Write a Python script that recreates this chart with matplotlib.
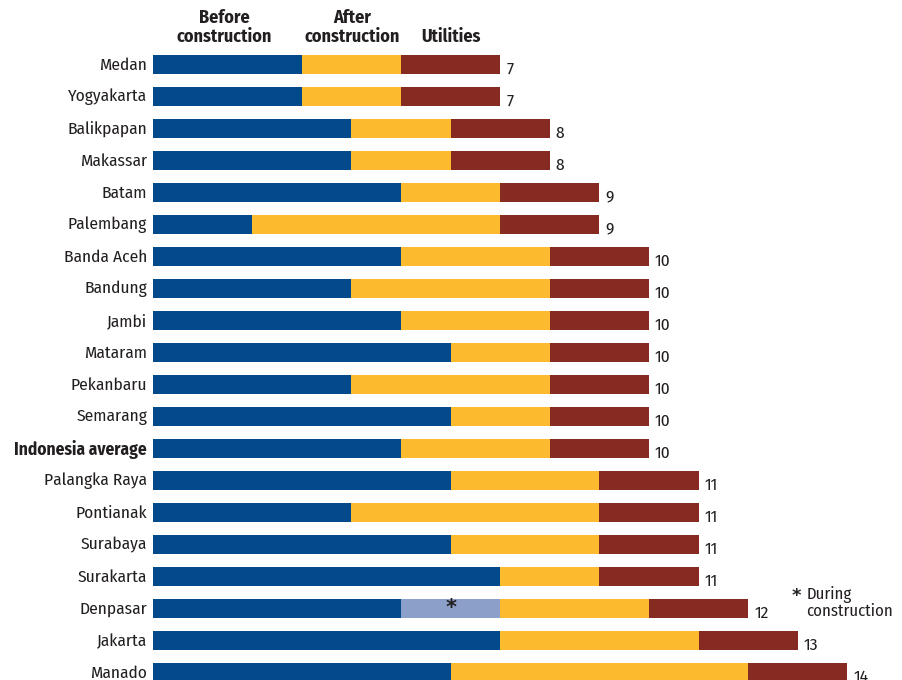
import matplotlib
matplotlib.use("Agg")
import matplotlib.pyplot as plt

cities = ["Medan", "Yogyakarta", "Balikpapan", "Makassar", "Batam", "Palembang",
          "Banda Aceh", "Bandung", "Jambi", "Mataram", "Pekanbaru", "Semarang",
          "Indonesia average", "Palangka Raya", "Pontianak", "Surabaya", "Surakarta",
          "Denpasar", "Jakarta", "Manado"]
before = [3, 3, 4, 4, 5, 2, 5, 4, 5, 6, 4, 6, 5, 6, 4, 6, 7, 5, 7, 6]
during = [0, 0, 0, 0, 0, 0, 0, 0, 0, 0, 0, 0, 0, 0, 0, 0, 0, 2, 0, 0]
after = [2, 2, 2, 2, 2, 5, 3, 4, 3, 2, 4, 2, 3, 3, 5, 3, 2, 3, 4, 6]
utilities = [2, 2, 2, 2, 2, 2, 2, 2, 2, 2, 2, 2, 2, 2, 2, 2, 2, 2, 2, 2]
totals = [7, 7, 8, 8, 9, 9, 10, 10, 10, 10, 10, 10, 10, 11, 11, 11, 11, 12, 13, 14]
headers = ["Before\nconstruction", "After\nconstruction", "Utilities"]

plt.rcParams["font.family"] = ["Fira Sans Condensed", "DejaVu Sans"]

BLUE = "#034A8C"
LBLUE = "#8C9FC9"
YEL = "#FCBA2F"
RED = "#862A22"
TXT = "#231F20"

fig = plt.figure(figsize=(9.02, 6.80), dpi=100)
ax = fig.add_axes([153 / 902, 0, 749 / 902, 1])
unit = 49.6
ax.set_xlim(0, 749 / unit)
ax.set_ylim((680 - 64.5) / 32, -64.5 / 32)
ax.axis("off")

y = list(range(len(cities)))
h = 19 / 32
left = [0] * len(cities)
for vals, col in [(before, BLUE), (during, LBLUE), (after, YEL), (utilities, RED)]:
    ax.barh(y, vals, left=left, height=h, color=col, linewidth=0)
    left = [l + v for l, v in zip(left, vals)]

for i, c in enumerate(cities):
    ax.text(-0.12, i + 0.02, c, ha="right", va="center", fontsize=12.5, color=TXT,
            fontweight="bold" if c == "Indonesia average" else "normal")
    ax.text(left[i] + 0.12, i + 0.14, str(totals[i]), ha="left", va="center",
            fontsize=12.5, color=TXT)

# star in Denpasar's during segment
di = cities.index("Denpasar")
ax.text(before[di] + during[di] / 2, di, "*", ha="center", va="center",
        fontsize=15, fontweight="bold", color=TXT, family="DejaVu Sans")

# headers
hx = [1.43, 4.01, 6.0]
for x, t in zip(hx, headers):
    ax.text(x, -0.6, t, ha="center", va="bottom", multialignment="center",
            fontsize=13, fontweight="bold", color=TXT, linespacing=1.05)

# legend note
ax.text(12.98, 16.6, "*", ha="center", va="center", fontsize=13,
        fontweight="bold", color=TXT, family="DejaVu Sans")
ax.text(13.17, 16.82, "During\nconstruction", ha="left", va="center",
        fontsize=12, color=TXT, linespacing=1.0)

fig.savefig("out.png", dpi=100)
